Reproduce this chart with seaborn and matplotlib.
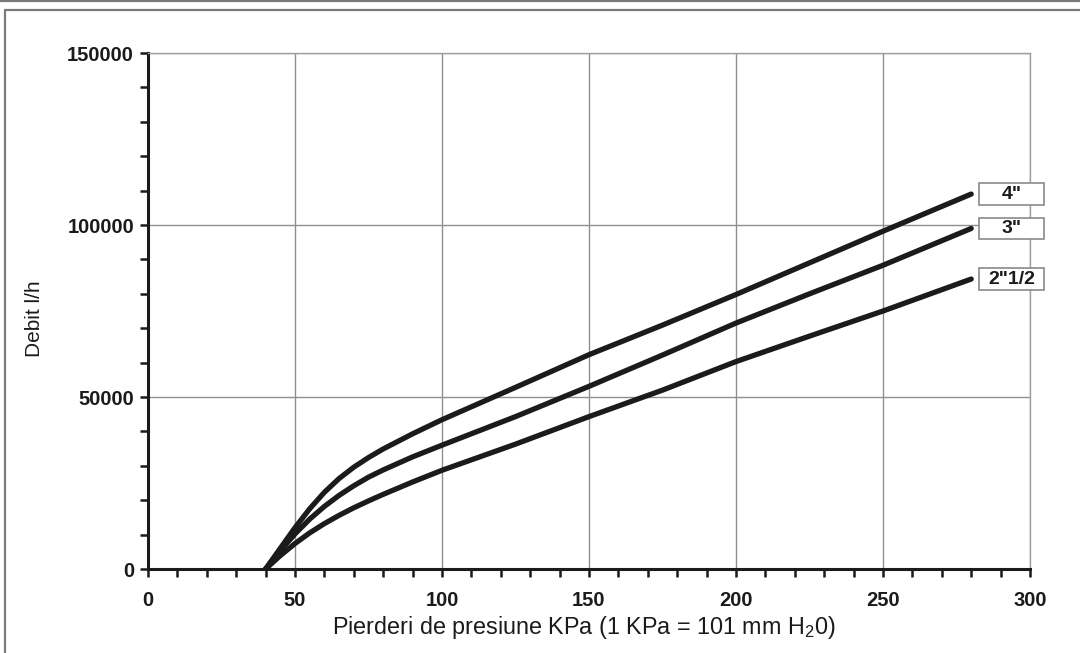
import numpy as np
import pandas as pd
import matplotlib
matplotlib.use("Agg")
import matplotlib.pyplot as plt
from matplotlib.patches import Rectangle
from matplotlib.lines import Line2D
import seaborn as sns

# datos (presion en KPa, debito en l/h)
presion = [40, 45, 50, 55, 60, 65, 70, 75, 80, 90, 100, 125, 150, 175, 200, 225, 250, 280]
debit_4 = [0, 6000, 12000, 17500, 22300, 26300, 29600, 32400, 34900, 39300, 43400,
           52800, 62300, 70900, 79800, 89000, 98200, 109000]
debit_3 = [0, 5300, 10200, 14500, 18200, 21400, 24200, 26700, 28800, 32600, 36000,
           44300, 53100, 62200, 71500, 80000, 88300, 99000]
debit_212 = [0, 3900, 7400, 10500, 13200, 15600, 17800, 19800, 21700, 25300, 28700,
             36300, 44300, 52000, 60300, 67700, 75000, 84300]
etiquetas = ['4"', '3"', '2"1/2']

n = len(presion)
df = pd.DataFrame({
    "Presion": presion * 3,
    "Debit": debit_4 + debit_3 + debit_212,
    "Serie": [etiquetas[0]] * n + [etiquetas[1]] * n + [etiquetas[2]] * n,
})

sns.set_theme(style="white")
plt.rcParams["font.family"] = ["Liberation Sans", "DejaVu Sans"]
plt.rcParams["mathtext.fontset"] = "custom"
plt.rcParams["mathtext.rm"] = "Liberation Sans"
plt.rcParams["mathtext.it"] = "Liberation Sans"

fig = plt.figure(figsize=(10.8, 6.53), dpi=100)
ax = fig.add_axes([0.137, 0.1286, 0.8167, 0.7902])

sns.lineplot(data=df, x="Presion", y="Debit", hue="Serie",
             palette=["#1c1a1a"] * 3, linewidth=3.8, legend=False, ax=ax,
             solid_capstyle="round", solid_joinstyle="round", zorder=3)

ax.set_xlim(0, 300)
ax.set_ylim(0, 150000)
ax.set_xticks(range(0, 301, 50))
ax.set_xticks(range(0, 301, 10), minor=True)
ax.set_yticks(range(0, 150001, 50000))
ax.set_yticks(range(0, 150001, 10000), minor=True)
ax.tick_params(which="both", bottom=True, left=True, direction="out",
               length=6, width=1.8, color="#1c1a1a")
ax.tick_params(axis="x", labelsize=14.5, pad=10)
ax.tick_params(axis="y", labelsize=14.5, pad=4)
for t in ax.get_xticklabels() + ax.get_yticklabels():
    t.set_fontweight("bold")
    t.set_color("#1c1a1a")
ax.grid(True, which="major", color="#8f8f8f", linewidth=1.0)

for s in ["left", "bottom"]:
    ax.spines[s].set_color("#1c1a1a")
    ax.spines[s].set_linewidth(2.2)
for s in ["top", "right"]:
    ax.spines[s].set_color("#a0a0a0")
    ax.spines[s].set_linewidth(1.0)

ax.set_xlabel(r"Pierderi de presiune KPa (1 KPa = 101 mm H$_2$0)", fontsize=16.8, color="#1c1a1a")
ax.xaxis.set_label_coords(0.494, -0.088)
ax.set_ylabel("Debit l/h", fontsize=15, color="#1c1a1a")
ax.yaxis.set_label_coords(-0.118, 0.486)

# etiquetas en cajas al final de cada curva
finales = [debit_4[-1], debit_3[-1], debit_212[-1]]
for lab, yv in zip(etiquetas, finales):
    ax.add_patch(Rectangle((282.7, yv - 3150), 22.1, 6300, facecolor="white",
                           edgecolor="#8a8a8a", linewidth=1.2, clip_on=False, zorder=5))
    ax.text(293.7, yv, lab, ha="center", va="center", fontsize=14,
            fontweight="bold", color="#1c1a1a", clip_on=False, zorder=6)

# marco de la pagina
fig.add_artist(Line2D([0, 1], [0.9985, 0.9985], transform=fig.transFigure, color="#7a7a7a", linewidth=1.6))
fig.add_artist(Line2D([0.005, 1], [0.985, 0.985], transform=fig.transFigure, color="#7a7a7a", linewidth=1.6))
fig.add_artist(Line2D([0.005, 0.005], [0, 0.985], transform=fig.transFigure, color="#7a7a7a", linewidth=1.6))

fig.savefig("out.png", dpi=100)
